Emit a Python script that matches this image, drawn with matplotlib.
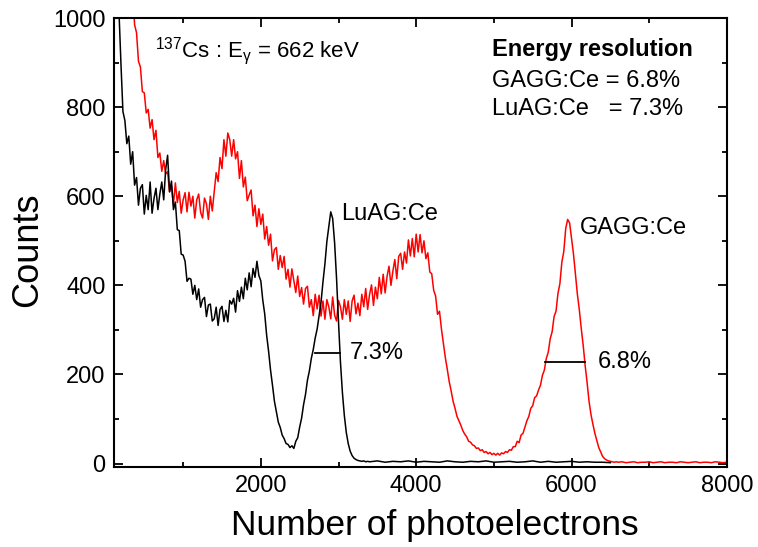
import numpy as np
import matplotlib
matplotlib.use("Agg")
import matplotlib.pyplot as plt
from matplotlib.ticker import MultipleLocator

plt.rcParams['font.family'] = ['Liberation Sans', 'DejaVu Sans']
plt.rcParams['mathtext.fontset'] = 'custom'
plt.rcParams['mathtext.rm'] = 'Liberation Sans'
plt.rcParams['mathtext.it'] = 'Liberation Sans:italic'

# ---- LuAG:Ce spectrum (channel width 25 p.e. up to 3375, then 100 p.e.) ----
luag_x_main = np.arange(150, 3400, 25)
luag_counts_main = [
    1150, 1010, 895, 790, 770, 718, 735, 672, 700, 625,
    642, 580, 618, 626, 560, 602, 570, 632, 562, 595,
    618, 570, 605, 632, 592, 660, 692, 610, 634, 570,
    587, 525, 523, 470, 468, 454, 409, 416, 414, 380,
    400, 368, 392, 351, 368, 373, 330, 356, 358, 320,
    325, 351, 310, 346, 353, 319, 344, 318, 366, 358,
    371, 340, 388, 364, 396, 370, 416, 390, 428, 397,
    438, 418, 454, 422, 410, 367, 336, 288, 252, 210,
    176, 140, 116, 93, 81, 64, 56, 45, 43, 36,
    40, 34, 50, 58, 82, 102, 132, 155, 187, 208,
    236, 256, 282, 302, 332, 362, 408, 448, 498, 532,
    565, 550, 495, 415, 318, 228, 160, 108, 70, 45,
    28, 18, 12, 9, 7, 6, 5, 6, 4, 5,
]
luag_x_tail = np.arange(3400, 6600, 100)
luag_counts_tail = [
    4, 6, 3, 5, 4, 6, 3, 5, 4, 3,
    6, 4, 3, 5, 4, 6, 3, 4, 5, 3,
    4, 6, 3, 5, 3, 4, 5, 3, 4, 3,
    3, 2,
]

# ---- GAGG:Ce spectrum (channel width 25 p.e. up to 6575, then 50 p.e.) ----
gagg_x_main = np.arange(300, 6600, 25)
gagg_counts_main = [
    1150, 1082, 1060, 985, 967, 903, 890, 835, 832, 787,
    795, 753, 772, 727, 748, 687, 697, 656, 680, 650,
    655, 610, 623, 582, 630, 586, 611, 562, 592, 608,
    565, 609, 578, 600, 551, 592, 605, 564, 551, 596,
    583, 548, 600, 567, 611, 653, 633, 687, 662, 727,
    690, 742, 727, 690, 727, 684, 700, 640, 680, 621,
    643, 590, 603, 614, 556, 580, 532, 572, 537, 560,
    504, 532, 490, 515, 455, 480, 485, 436, 467, 440,
    465, 414, 436, 396, 437, 410, 384, 421, 375, 395,
    358, 393, 398, 351, 368, 332, 380, 347, 378, 331,
    365, 324, 368, 352, 325, 374, 333, 320, 366, 352,
    324, 368, 335, 365, 319, 365, 378, 336, 360, 332,
    380, 352, 393, 346, 380, 401, 355, 396, 370, 418,
    381, 425, 383, 420, 443, 400, 432, 458, 415, 465,
    472, 436, 475, 450, 502, 466, 505, 464, 515, 475,
    514, 473, 500, 460, 473, 430, 426, 389, 376, 335,
    342, 302, 270, 238, 212, 184, 163, 140, 124, 106,
    96, 86, 74, 66, 60, 50, 48, 42, 40, 34,
    35, 29, 31, 25, 27, 22, 25, 20, 23, 19,
    23, 19, 24, 22, 27, 25, 31, 30, 38, 38,
    50, 47, 64, 68, 82, 96, 106, 124, 130, 148,
    152, 165, 176, 198, 210, 236, 250, 280, 296, 330,
    342, 382, 404, 452, 476, 528, 548, 540, 505, 470,
    425, 380, 345, 303, 265, 220, 182, 140, 110, 88,
    68, 52, 36, 26, 16, 11, 8, 6, 5, 4,
    3, 4,
]
gagg_x_tail = np.arange(6600, 8050, 50)
gagg_counts_tail = [
    3, 4, 2, 3, 4, 2, 3, 3, 4, 2,
    3, 4, 2, 3, 3, 2, 4, 3, 2, 3,
    4, 2, 3, 3, 2, 4, 3, 2, 3,
]

# FWHM markers: (left edge, right edge, height) and their labels
luag_fwhm = (2700, 3025, 249)
gagg_fwhm = (5655, 6170, 227)
luag_res = "7.3%"
gagg_res = "6.8%"

luag_x = np.concatenate([luag_x_main, luag_x_tail])
luag_y = np.array(luag_counts_main + luag_counts_tail)
gagg_x = np.concatenate([gagg_x_main, gagg_x_tail])
gagg_y = np.array(gagg_counts_main + gagg_counts_tail)

fig = plt.figure(figsize=(7.58, 5.47), dpi=100)
ax = fig.add_axes([0.1504, 0.146, 0.8086, 0.821])

ax.plot(gagg_x, gagg_y, color='#ff0000', lw=1.1)
ax.plot(luag_x, luag_y, color='black', lw=1.1)

ax.plot([luag_fwhm[0], luag_fwhm[1]], [luag_fwhm[2]] * 2, color='black', lw=1.3)
ax.plot([gagg_fwhm[0], gagg_fwhm[1]], [gagg_fwhm[2]] * 2, color='black', lw=1.3)

ax.set_xlim(110, 8000)
ax.set_ylim(-8, 1000)
ax.xaxis.set_major_locator(MultipleLocator(2000))
ax.xaxis.set_minor_locator(MultipleLocator(1000))
ax.yaxis.set_major_locator(MultipleLocator(200))
ax.yaxis.set_minor_locator(MultipleLocator(100))
ax.tick_params(which='both', direction='in', top=True, right=True,
               labelsize=17, width=1.3, pad=6)
ax.tick_params(which='major', length=6.5)
ax.tick_params(which='minor', length=3.5)
for s in ax.spines.values():
    s.set_linewidth(1.5)

ax.set_xlabel('Number of photoelectrons', fontsize=25.5)
ax.xaxis.set_label_coords(0.524, -0.0935)
ax.set_ylabel('Counts', fontsize=26)
ax.yaxis.set_label_coords(-0.112, 0.483)

ax.text(635, 925, r'$^{137}$Cs : E$_{\mathrm{\gamma}}$ = 662 keV', fontsize=16,
        ha='left', va='center')
ax.text(4970, 930, 'Energy resolution', fontsize=17, fontweight='bold',
        ha='left', va='center')
ax.text(4970, 858, 'GAGG:Ce = ' + gagg_res, fontsize=17, ha='left', va='center')
ax.text(4970, 795, 'LuAG:Ce   = ' + luag_res, fontsize=17, ha='left', va='center')
ax.text(3030, 560, 'LuAG:Ce', fontsize=17, ha='left', va='center')
ax.text(6105, 529, 'GAGG:Ce', fontsize=17, ha='left', va='center')
ax.text(3145, luag_fwhm[2], luag_res, fontsize=17, ha='left', va='center')
ax.text(6335, gagg_fwhm[2], gagg_res, fontsize=17, ha='left', va='center')

fig.savefig('out.png', dpi=100)
